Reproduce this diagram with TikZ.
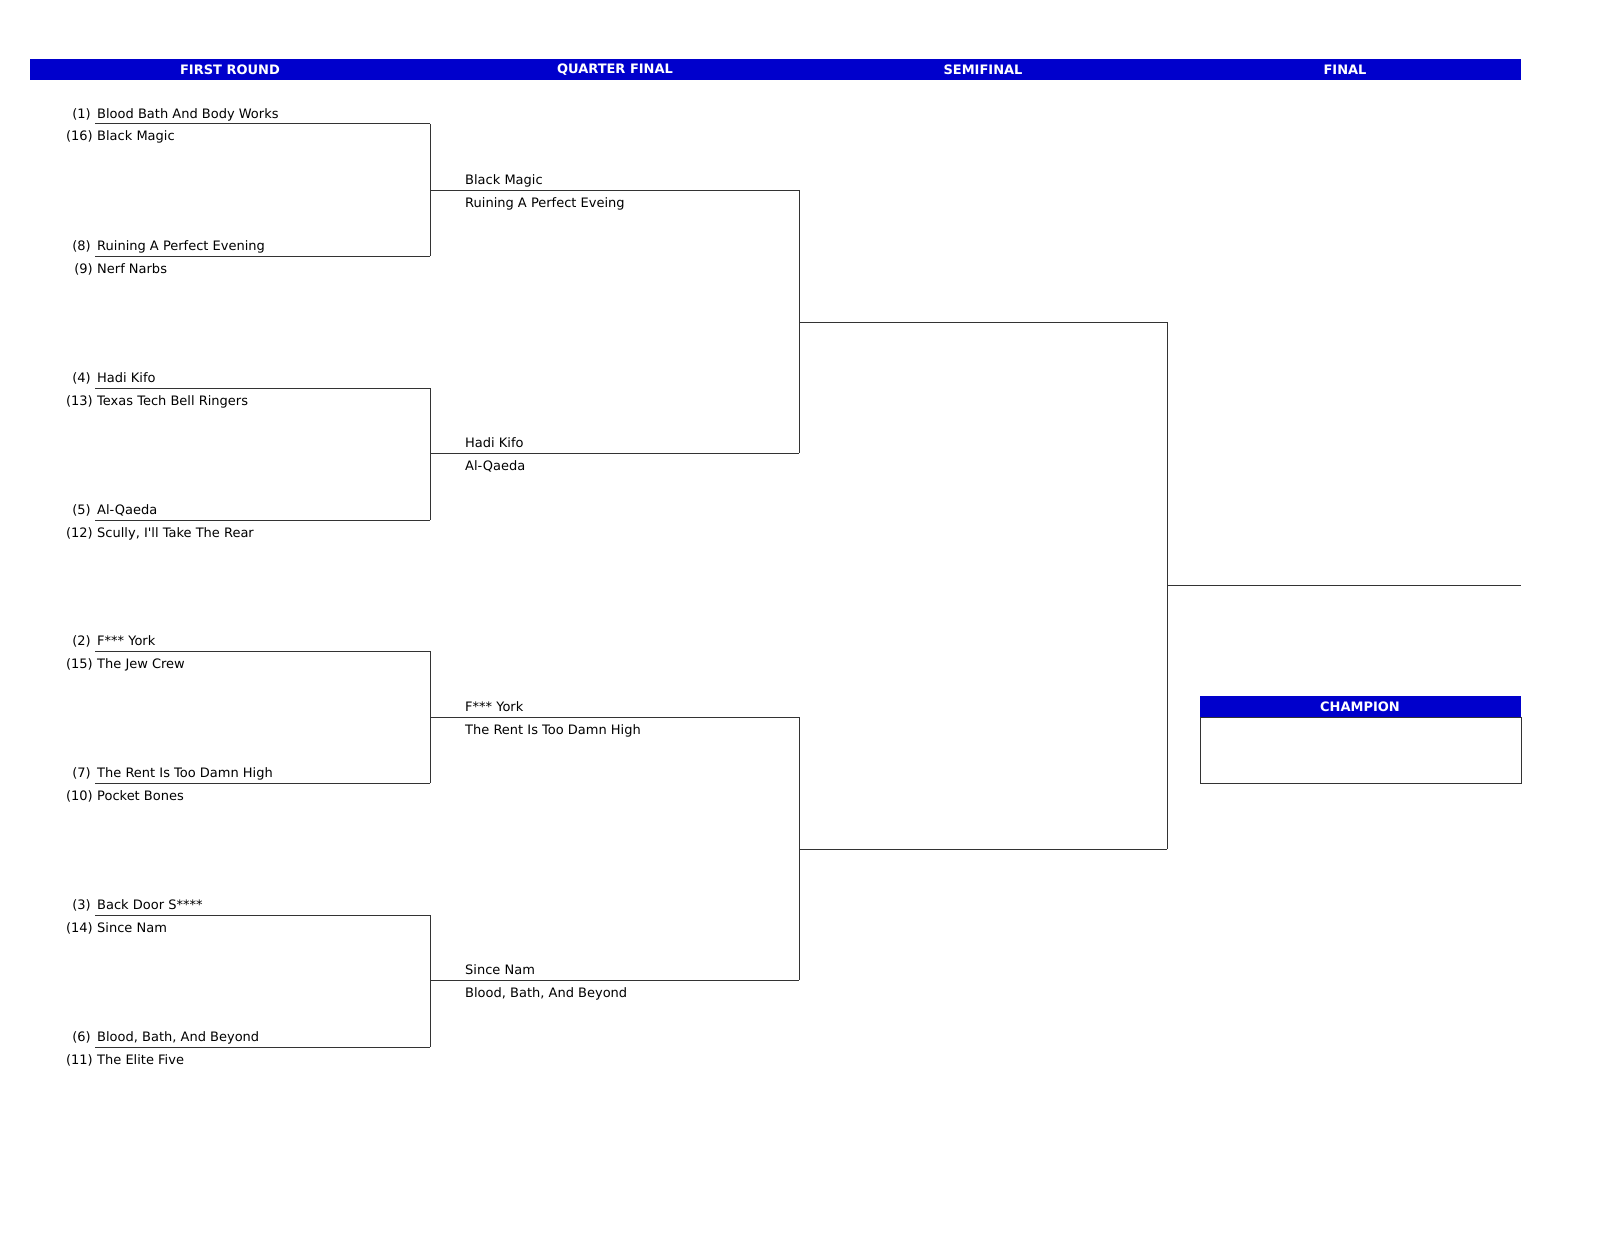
\documentclass[tikz,border=0pt]{standalone}
\usepackage{fontspec}
\setmainfont{DejaVu Sans}[Ligatures=TeXOff]
\definecolor{hdr}{HTML}{0000CC}
\definecolor{ln}{HTML}{333333}
\begin{document}
\begin{tikzpicture}[x=1pt,y=-1pt,
  team/.style={anchor=base west,inner sep=0pt,font=\fontsize{13}{15}\selectfont},
  seed/.style={anchor=base east,inner sep=0pt,font=\fontsize{13}{15}\selectfont},
  hd/.style={font=\fontsize{13}{15}\selectfont\bfseries,text=white,inner sep=0pt},
  br/.style={draw=ln,line width=1pt}]
\useasboundingbox[fill=white] (0,0) rectangle (1600,1236);
\fill[hdr] (30,59) rectangle (1521,80);
\node[hd] (h1) at (230,70) {FIRST ROUND};
\node[hd] (h2) at (615,70) {QUARTER FINAL};
\node[hd] (h3) at (983,70) {SEMIFINAL};
\node[hd] (h4) at (1345,70) {FINAL};
% first round
\foreach \y/\sa/\ta/\sb/\tb [count=\i] in {
 124/(1)/Blood Bath And Body Works/(16)/Black Magic,
 256/(8)/Ruining A Perfect Evening/(9)/Nerf Narbs,
 388/(4)/Hadi Kifo/(13)/Texas Tech Bell Ringers,
 520/(5)/Al-Qaeda/(12)/{Scully, I'll Take The Rear},
 651/(2)/F*** York/(15)/The Jew Crew,
 783/(7)/The Rent Is Too Damn High/(10)/Pocket Bones,
 915/(3)/Back Door S****/(14)/Since Nam,
 1047/(6)/{Blood, Bath, And Beyond}/(11)/The Elite Five}{
 \node[seed] (sa\i) at (91,\y-6) {\sa};
 \node[team] (ta\i) at (97,\y-6) {\ta};
 \node[seed] (sb\i) at (93,\y+17) {\sb};
 \node[team] (tb\i) at (97,\y+17) {\tb};
 \coordinate (r1s\i) at (95,\y);
 \coordinate (r1e\i) at (430,\y);
 \draw[br] (r1s\i) -- (r1e\i);
}
\foreach \a/\b in {1/2,3/4,5/6,7/8}{\draw[br] (r1e\a) -- (r1e\b);}
% quarter final
\foreach \y/\ta/\tb [count=\i] in {
 190/Black Magic/Ruining A Perfect Eveing,
 453/Hadi Kifo/Al-Qaeda,
 717/F*** York/The Rent Is Too Damn High,
 980/Since Nam/{Blood, Bath, And Beyond}}{
 \node[team] (qa\i) at (465,\y-6) {\ta};
 \node[team] (qb\i) at (465,\y+17) {\tb};
 \coordinate (r2s\i) at (430,\y);
 \coordinate (r2e\i) at (799,\y);
 \draw[br] (r2s\i) -- (r2e\i);
}
\draw[br] (r2e1) -- (r2e2);
\draw[br] (r2e3) -- (r2e4);
% semifinal
\coordinate (r3s1) at (799,322); \coordinate (r3e1) at (1167,322);
\coordinate (r3s2) at (799,849); \coordinate (r3e2) at (1167,849);
\draw[br] (r3s1) -- (r3e1);
\draw[br] (r3s2) -- (r3e2);
\draw[br] (r3e1) -- (r3e2);
% final
\coordinate (fs) at (1167,585); \coordinate (fe) at (1521,585);
\draw[br] (fs) -- (fe);
% champion
\fill[hdr] (1200,696) rectangle (1521,717);
\node[hd] (ch) at (1360,707) {CHAMPION};
\node[draw=ln,line width=1pt,minimum width=321pt,minimum height=66pt,inner sep=0pt,anchor=north west] (cbox) at (1200,717) {};
\end{tikzpicture}
\end{document}
